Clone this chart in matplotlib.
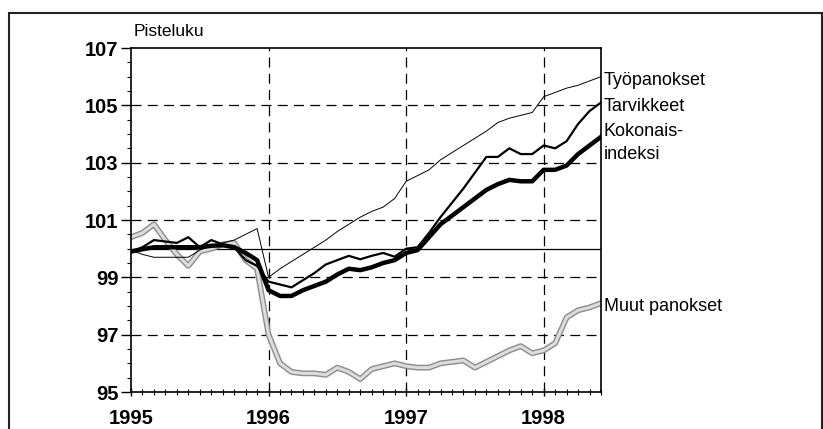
import matplotlib
matplotlib.use("Agg")
import matplotlib.pyplot as plt
import matplotlib.patheffects as pe
from matplotlib.patches import Rectangle
import numpy as np

# kuukaudet: tammikuu 1995 = 0 ... kesäkuu 1998 = 41
years = [1995, 1996, 1997, 1998]

tyopanokset = [99.95, 99.8, 99.7, 99.7, 99.7, 99.7, 99.95, 100.1, 100.2, 100.3, 100.5, 100.7,
               99.0, 99.3, 99.55, 99.8, 100.05, 100.3, 100.6, 100.85, 101.1, 101.3, 101.45, 101.75,
               102.35, 102.55, 102.75, 103.1, 103.35, 103.6, 103.85, 104.1, 104.4, 104.55, 104.65, 104.75,
               105.3, 105.45, 105.6, 105.7, 105.85, 106.0]
tarvikkeet = [99.9, 100.05, 100.3, 100.25, 100.2, 100.4, 100.05, 100.3, 100.15, 100.05, 99.6, 99.4,
              98.85, 98.75, 98.65, 98.9, 99.15, 99.45, 99.6, 99.75, 99.63, 99.75, 99.85, 99.72,
              100.0, 100.05, 100.55, 101.1, 101.6, 102.1, 102.65, 103.2, 103.2, 103.5, 103.3, 103.3,
              103.6, 103.5, 103.75, 104.35, 104.8, 105.1]
kokonais = [99.9, 99.98, 100.05, 100.05, 100.05, 100.05, 100.05, 100.1, 100.12, 100.05, 99.85, 99.6,
            98.55, 98.35, 98.35, 98.55, 98.7, 98.85, 99.1, 99.3, 99.25, 99.35, 99.5, 99.6,
            99.85, 99.95, 100.4, 100.85, 101.15, 101.45, 101.75, 102.05, 102.25, 102.4, 102.35, 102.35,
            102.75, 102.75, 102.9, 103.3, 103.6, 103.9]
muut = [100.4, 100.55, 100.85, 100.3, 99.8, 99.4, 99.9, 100.0, 100.15, 100.2, 99.6, 99.3,
        97.0, 96.0, 95.7, 95.65, 95.65, 95.6, 95.85, 95.7, 95.45, 95.8, 95.9, 96.0,
        95.9, 95.85, 95.85, 96.0, 96.05, 96.1, 95.85, 96.05, 96.25, 96.45, 96.6, 96.35,
        96.45, 96.7, 97.6, 97.85, 97.95, 98.1]

m = np.arange(len(kokonais))

plt.rcParams['font.family'] = ['Liberation Sans', 'DejaVu Sans']

fig = plt.figure(figsize=(8.23, 4.29), dpi=100)
ax = fig.add_axes([131/823, 37/429, 470/823, 344/429])

# ruudukko
for yv in [97, 99, 101, 103, 105]:
    ax.axhline(yv, color="k", lw=0.9, ls=(0, (8, 5)), zorder=1)
for xv in [12, 24, 36]:
    ax.axvline(xv, color="k", lw=0.9, ls=(0, (8, 5)), zorder=1)
ax.axhline(100, color="k", lw=0.9, zorder=1)

ax.plot(m, muut, color="#dcdcdc", lw=2.2, zorder=2,
        path_effects=[pe.Stroke(linewidth=4.2, foreground="#8c8c8c"), pe.Normal()])
ax.plot(m, tyopanokset, "k-", lw=0.7, zorder=3)
ax.plot(m, tarvikkeet, "k-", lw=1.6, zorder=4)
ax.plot(m, kokonais, "k-", lw=3.2, zorder=5)

ax.set_xlim(0, 41)
ax.set_ylim(95, 107)
ax.set_xticks([0, 12, 24, 36])
ax.set_xticklabels([str(y) for y in years])
ax.set_xticks(np.arange(0, 42), minor=True)
ax.set_yticks([95, 97, 99, 101, 103, 105, 107])
ax.set_yticks(np.arange(95, 107.01, 0.5), minor=True)
ax.tick_params(axis="x", which="major", direction="inout", length=6, width=1, pad=9)
ax.tick_params(axis="x", which="minor", direction="inout", length=4, width=0.8)
ax.tick_params(axis="y", which="major", direction="out", length=7, width=1, pad=2)
ax.tick_params(axis="y", which="minor", direction="out", length=3, width=0.8)
for lab in ax.get_xticklabels() + ax.get_yticklabels():
    lab.set_fontsize(14.5)
    lab.set_fontweight("bold")
for s in ax.spines.values():
    s.set_linewidth(1.2)

ax.text(0.005, 1.025, "Pisteluku", transform=ax.transAxes, fontsize=12.5, ha="left", va="bottom")

lab_kw = dict(xycoords="data", textcoords="offset points", va="center", ha="left",
              fontsize=13, annotation_clip=False)
ax.annotate("Työpanokset", xy=(41, 105.85), xytext=(2, 0), **lab_kw)
ax.annotate("Tarvikkeet", xy=(41, 104.95), xytext=(2, 0), **lab_kw)
ax.annotate("Kokonais-", xy=(41, 104.1), xytext=(2, 0), **lab_kw)
ax.annotate("indeksi", xy=(41, 103.27), xytext=(2, 0), **lab_kw)
ax.annotate("Muut panokset", xy=(41, 97.98), xytext=(2, 0), **lab_kw)

# ulkokehys
fig.patches.append(Rectangle((9/823, -0.05), 813/823, 0.05 + 416/429, transform=fig.transFigure,
                             fill=False, lw=1.5, edgecolor="#222222"))

fig.savefig("out.png", dpi=100)
